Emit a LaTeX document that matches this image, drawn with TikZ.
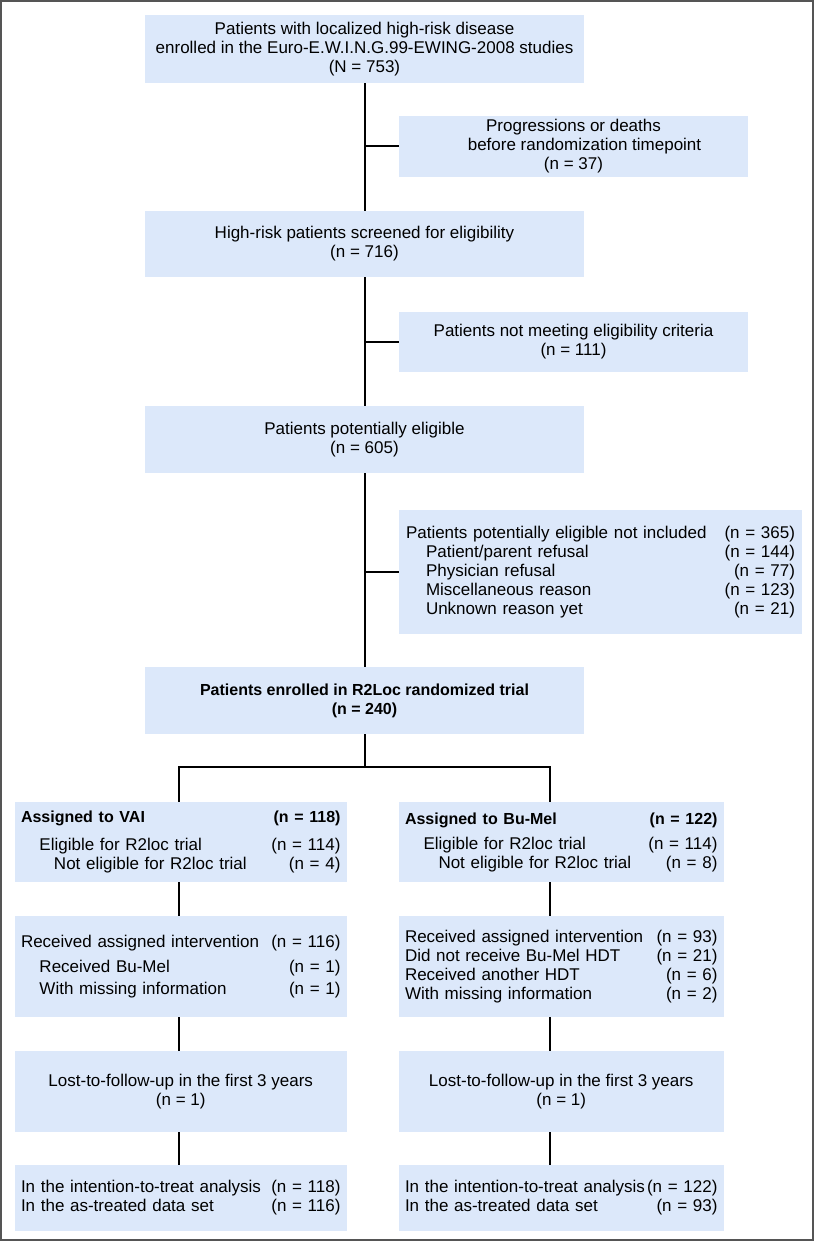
\documentclass[tikz,border=0pt]{standalone}
\usepackage{fontspec}
\setmainfont{Liberation Sans}
\usepackage{tikz}
\definecolor{boxblue}{RGB}{220,232,250}
\definecolor{framegray}{RGB}{85,85,85}
\newcommand{\numfill}{\hspace{0pt plus 1filll}}
\newcommand{\bhead}[1]{{\fontsize{8}{9.5}\selectfont\bfseries #1}}
\tikzset{
	flow/.style = {fill=boxblue, inner sep=0pt, align=center, font=\fontsize{8.5}{9.5}\selectfont},
	main/.style = {flow, minimum width=219.5pt},
	side/.style = {flow, minimum width=174.5pt},
	arm/.style = {flow, align=left, inner xsep=3.25pt, text width=159.75pt},
	armr/.style = {flow, align=left, inner xsep=3pt, text width=156.25pt},
	link/.style = {line width=1pt}
}

\begin{document}
\begin{tikzpicture}[x=0.5pt, y=-0.5pt]
	\useasboundingbox (0,0) rectangle (814,1241);
	\draw[framegray, line width=1pt] (1,1) rectangle (813,1240);

	\node[main, minimum height=34pt] (n753) at (364.5,49) {Patients with localized high-risk disease\\enrolled in the Euro-E.W.I.N.G.99-EWING-2008 studies\\(N = 753)};
	\node[side, minimum height=30.5pt] (out37) at (573.5,146.5) {Progressions or deaths\\\hspace*{11pt}before randomization timepoint\\(n = 37)};
	\node[main, minimum height=33pt] (n716) at (364.5,244) {High-risk patients screened for eligibility\\(n = 716)};
	\node[side, minimum height=30pt] (out111) at (573.5,342) {Patients not meeting eligibility criteria\\(n = 111)};
	\node[main, minimum height=33.5pt] (n605) at (364.5,439.5) {Patients potentially eligible\\(n = 605)};
	\node[flow, align=left, inner xsep=3.5pt, text width=194.5pt, minimum height=62pt] (out365) at (600.5,572) {Patients potentially eligible not included\numfill(n~=~365)\\
		\hspace*{10pt}Patient/parent refusal\numfill(n~=~144)\\
		\hspace*{10pt}Physician refusal\numfill(n~=~77)\\
		\hspace*{10pt}Miscellaneous reason\numfill(n~=~123)\\
		\hspace*{10pt}Unknown reason yet\numfill(n~=~21)};
	\node[main, minimum height=33.5pt] (n240) at (364.5,700.5) {\bhead{Patients enrolled in R2Loc randomized trial}\\\bhead{(n = 240)}};

	% the two arms
	\coordinate (splitL) at (179,767);
	\coordinate (splitR) at (550,767);

	\node[arm, minimum height=40pt] (vai) at (180.75,842) {\bhead{Assigned to VAI}\numfill\bhead{(n~=~118)}\\[4.5pt]
		\hspace*{9.25pt}Eligible for R2loc trial\numfill(n~=~114)\\
		\hspace*{16.5pt}Not eligible for R2loc trial\numfill(n~=~4)};
	\node[armr, minimum height=40pt] (bumel) at (561.25,842) {\bhead{Assigned to Bu-Mel}\numfill\bhead{(n~=~122)}\\[3pt]
		\hspace*{9.25pt}Eligible for R2loc trial\numfill(n~=~114)\\
		\hspace*{16.75pt}Not eligible for R2loc trial\numfill(n~=~8)};

	\node[arm, minimum height=50.5pt] (recvA) at (180.75,966.5) {Received assigned intervention\numfill(n~=~116)\\[3pt]
		\hspace*{9.25pt}Received Bu-Mel\numfill(n~=~1)\\[1.5pt]
		\hspace*{9.25pt}With missing information\numfill(n~=~1)};
	\node[armr, minimum height=50.5pt] (recvB) at (561.25,966.5) {Received assigned intervention\numfill(n~=~93)\\
		Did not receive Bu-Mel HDT\numfill(n~=~21)\\
		Received another HDT\numfill(n~=~6)\\
		With missing information\numfill(n~=~2)};

	\node[flow, minimum width=166.25pt, minimum height=40.5pt] (lostA) at (180.75,1091.5) {Lost-to-follow-up in the first 3 years\\(n = 1)};
	\node[flow, minimum width=162.25pt, minimum height=40.5pt] (lostB) at (561.25,1091.5) {Lost-to-follow-up in the first 3 years\\(n = 1)};

	\node[arm, minimum height=33pt] (ittA) at (180.75,1198) {In the intention-to-treat analysis\numfill(n~=~118)\\In the as-treated data set\numfill(n~=~116)};
	\node[armr, minimum height=33pt] (ittB) at (561.25,1198) {In the intention-to-treat analysis\numfill(n~=~122)\\In the as-treated data set\numfill(n~=~93)};

	\draw[link] (n753) -- (n716);
	\draw[link] (out37.west -| n753.south) -- (out37.west);
	\draw[link] (n716) -- (n605);
	\draw[link] (out111.west -| n716.south) -- (out111.west);
	\draw[link] (n605) -- (n240);
	\draw[link] (out365.west -| n605.south) -- (out365.west);
	\draw[link] (n240) -- (n240 |- splitL);
	\draw[link] (vai.north -| splitL) -- (splitL) -- (splitR) -- (bumel.north -| splitR);
	\draw[link] (vai.south -| splitL) -- (recvA.north -| splitL);
	\draw[link] (recvA.south -| splitL) -- (lostA.north -| splitL);
	\draw[link] (lostA.south -| splitL) -- (ittA.north -| splitL);
	\draw[link] (bumel.south -| splitR) -- (recvB.north -| splitR);
	\draw[link] (recvB.south -| splitR) -- (lostB.north -| splitR);
	\draw[link] (lostB.south -| splitR) -- (ittB.north -| splitR);
\end{tikzpicture}
\end{document}
